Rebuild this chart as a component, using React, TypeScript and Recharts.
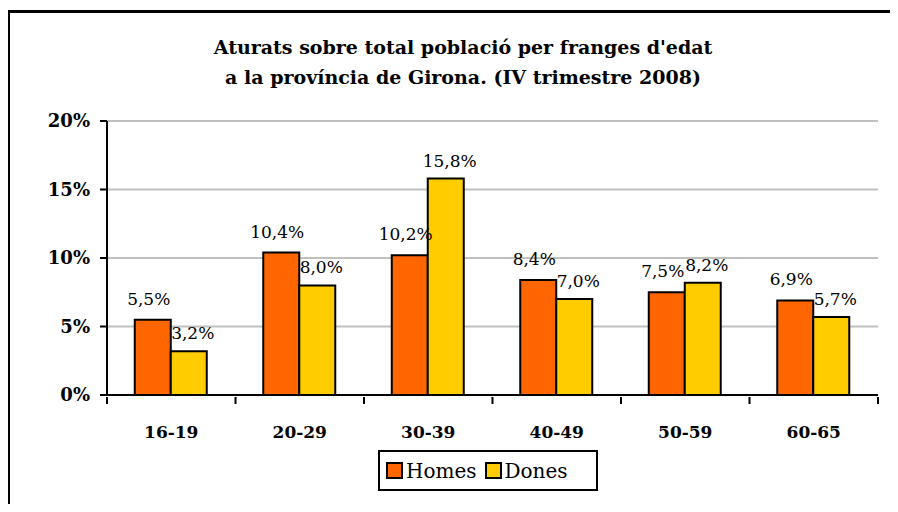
import { BarChart, Bar, XAxis, YAxis, CartesianGrid, LabelList, Legend } from 'recharts';

const ageGroups = ['16-19', '20-29', '30-39', '40-49', '50-59', '60-65'];
const homes = [5.5, 10.4, 10.2, 8.4, 7.5, 6.9];
const dones = [3.2, 8.0, 15.8, 7.0, 8.2, 5.7];
const yTicks = [0, 5, 10, 15, 20];

const data = ageGroups.map((g, i) => ({ group: g, homes: homes[i], dones: dones[i] }));

const FONT = '"DejaVu Serif", serif';
const ORANGE = '#FF6600';
const YELLOW = '#FFCC00';

const CHART_W = 880;
const CHART_H = 500;
const MARGIN = { top: 108, right: 12, bottom: 78, left: 0 };
const Y_AXIS_W = 97;
const BAND = (CHART_W - MARGIN.left - MARGIN.right - Y_AXIS_W) / ageGroups.length;

const pct = (v: number) => `${v.toFixed(1).replace('.', ',')}%`;

function GroupTick(props: any) {
  const { x, y, payload, index } = props;
  const left = x - BAND / 2;
  const right = x + BAND / 2;
  return (
    <g>
      <line x1={left} y1={y} x2={left} y2={y + 7} stroke="#000" strokeWidth={2} />
      {index === ageGroups.length - 1 && (
        <line x1={right} y1={y} x2={right} y2={y + 7} stroke="#000" strokeWidth={2} />
      )}
      <text x={x} y={y + 41} textAnchor="middle" fontFamily={FONT} fontWeight="bold" fontSize={17} fill="#000">
        {payload.value}
      </text>
    </g>
  );
}

function LegendBox() {
  const item = (color: string, label: string) => (
    <span style={{ display: 'inline-flex', alignItems: 'center', marginRight: 8 }}>
      <span style={{ width: 13, height: 13, background: color, border: '2px solid #000', marginRight: 3 }} />
      <span>{label}</span>
    </span>
  );
  return (
    <div
      style={{
        border: '2px solid #000',
        boxSizing: 'border-box',
        height: 41,
        width: 220,
        display: 'flex',
        alignItems: 'center',
        paddingLeft: 6,
        fontFamily: FONT,
        fontSize: 20,
        color: '#000',
        background: '#fff',
      }}
    >
      {item(ORANGE, 'Homes')}
      {item(YELLOW, 'Dones')}
    </div>
  );
}

export default function App() {
  return (
    <div style={{ margin: -8, width: 898, height: 512, overflow: 'hidden', position: 'relative', background: '#fff' }}>
      <div
        style={{
          position: 'absolute',
          left: 7,
          top: 10,
          width: 888,
          height: 499,
          borderTop: '3px solid #000',
          borderLeft: '3px solid #000',
        }}
      >
        <div
          style={{
            position: 'absolute',
            left: 0,
            width: 906,
            top: 19,
            textAlign: 'center',
            fontFamily: FONT,
            fontWeight: 'bold',
            fontSize: 19,
            lineHeight: '30px',
            color: '#000',
          }}
        >
          Aturats sobre total població per franges d'edat
          <br />
          a la província de Girona. (IV trimestre 2008)
        </div>
        <BarChart
          width={CHART_W}
          height={CHART_H}
          data={data}
          margin={MARGIN}
          barCategoryGap="21.6%"
          barGap={0}
        >
          <CartesianGrid vertical={false} stroke="#C0C0C0" strokeWidth={2} />
          <XAxis
            dataKey="group"
            stroke="#000"
            strokeWidth={2}
            tickLine={false}
            tickSize={0}
            height={40}
            tick={<GroupTick />}
            interval={0}
          />
          <YAxis
            width={Y_AXIS_W}
            domain={[0, 20]}
            ticks={yTicks}
            stroke="#000"
            strokeWidth={2}
            tickSize={7}
            tickLine={{ stroke: '#000', strokeWidth: 2 }}
            tickFormatter={(v: number) => `${v}%`}
            tick={{ fontFamily: FONT, fontWeight: 'bold', fontSize: 18, fill: '#000' }}
            tickMargin={10}
          />
          <Legend
            layout="horizontal"
            verticalAlign="middle"
            align="center"
            content={<LegendBox />}
            wrapperStyle={{ position: 'absolute', left: 368, top: 437, width: 220 }}
          />
          <Bar dataKey="homes" fill={ORANGE} stroke="#000" strokeWidth={2} isAnimationActive={false}>
            <LabelList
              dataKey="homes"
              position="top"
              offset={15}
              dx={-4}
              formatter={(v: any) => pct(Number(v))}
              style={{ fontFamily: FONT, fontSize: 17, fill: '#000' }}
            />
          </Bar>
          <Bar dataKey="dones" fill={YELLOW} stroke="#000" strokeWidth={2} isAnimationActive={false}>
            <LabelList
              dataKey="dones"
              position="top"
              offset={12}
              dx={4}
              formatter={(v: any) => pct(Number(v))}
              style={{ fontFamily: FONT, fontSize: 17, fill: '#000' }}
            />
          </Bar>
        </BarChart>
      </div>
    </div>
  );
}
